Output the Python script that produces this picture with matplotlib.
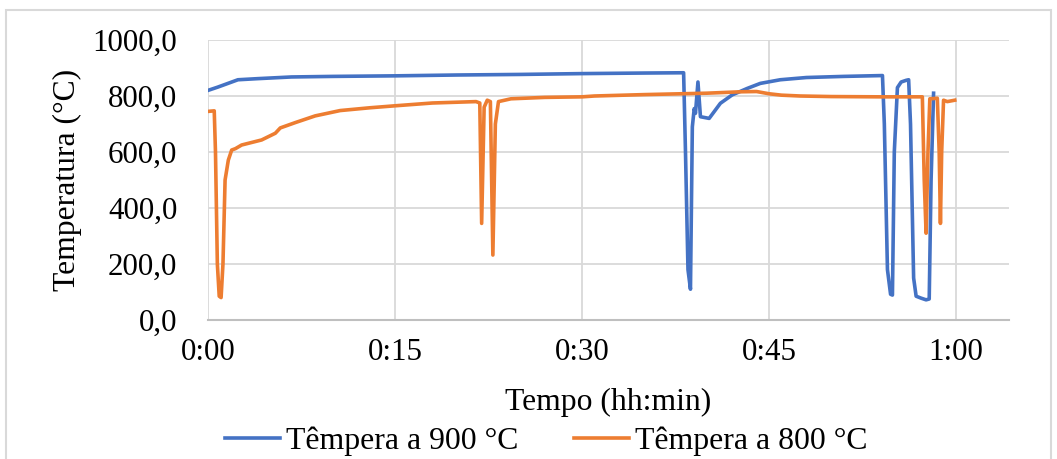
import matplotlib
matplotlib.use("Agg")
import matplotlib.pyplot as plt
from matplotlib.patches import Rectangle

plt.rcParams['font.family'] = ['Liberation Serif', 'DejaVu Serif']

# time in minutes, temperature in °C
t900 = [0, 0.8, 1.6, 2.4, 4, 6.7, 10, 15, 20, 25, 30, 35, 38.15,
        38.3, 38.5, 38.7, 38.85, 39.0, 39.1, 39.3, 39.5, 40.2, 41.1, 42.05,
        43.25, 44.3, 45.9, 48, 51, 54.1,
        54.25, 54.5, 54.75, 54.9, 55.05, 55.3, 55.6, 56.0, 56.2,
        56.35, 56.6, 56.8, 57.2, 57.6, 57.85, 58.0, 58.2]
temp900 = [820, 832, 845, 858, 862, 868, 870, 872, 875, 877, 880, 882, 883,
           600, 180, 110, 690, 755, 738, 850, 726, 720, 774, 804,
           827, 845, 858, 866, 870, 873,
           700, 180, 92, 89, 600, 830, 850, 856, 858,
           700, 150, 85, 78, 72, 75, 500, 810]

t800 = [0, 0.5, 0.6, 0.75, 0.9, 1.05, 1.2, 1.37, 1.63, 1.9, 2.2, 2.7,
        4.3, 5.4, 5.8, 7, 8.6, 10.6, 13, 15, 18, 21.5, 21.8,
        21.95, 22.15, 22.4, 22.65, 22.85, 23.05, 23.3, 24.3, 27, 30, 31,
        35, 38, 40, 42.7, 44, 45, 46, 47.5, 50, 54, 57.3,
        57.45, 57.6, 57.75, 57.9, 58.5, 58.65, 58.75, 58.85, 59.0, 59.3, 59.9]
temp800 = [745, 747, 600, 200, 85, 80, 200, 500, 571, 607, 612, 625,
           643, 667, 686, 705, 729, 748, 758, 765, 775, 780, 775,
           345, 760, 785, 780, 232, 700, 780, 790, 795, 797, 800,
           805, 808, 810, 815, 816, 808, 803, 800, 798, 797, 797,
           500, 310, 600, 790, 792, 600, 345, 600, 785, 780, 785]

xticks = [0, 15, 30, 45, 60]
xlabels = ["0:00", "0:15", "0:30", "0:45", "1:00"]
yticks = [0, 200, 400, 600, 800, 1000]
ylabels = ["0,0", "200,0", "400,0", "600,0", "800,0", "1000,0"]

fig = plt.figure(figsize=(10.57, 4.59), dpi=100)
ax = fig.add_axes([208/1057, 1-320/459, 801/1057, 280/459])

ax.plot(t900, temp900, color="#4472C4", lw=2.6, label="Têmpera a 900 °C")
ax.plot(t800, temp800, color="#ED7D31", lw=2.6, label="Têmpera a 800 °C")

ax.set_xlim(0, 64.25)
ax.set_ylim(0, 1000)
ax.set_xticks(xticks)
ax.set_xticklabels(xlabels)
ax.set_yticks(yticks)
ax.set_yticklabels(ylabels)
ax.tick_params(axis='both', length=0, labelsize=22.3)
ax.tick_params(axis='y', pad=22)
ax.tick_params(axis='x', pad=13)
ax.grid(True, color="#D9D9D9", lw=1.3)
ax.set_axisbelow(True)
for s in ['top', 'right', 'left']:
    ax.spines[s].set_visible(False)
ax.spines['bottom'].set_color("#BFBFBF")
ax.spines['bottom'].set_linewidth(1.5)

ax.set_xlabel("Tempo (hh:min)", fontsize=22.8)
ax.xaxis.set_label_coords(0.5, (320-388)/280)
ax.set_ylabel("Temperatura (°C)", fontsize=22.8)
ax.yaxis.set_label_coords((82-208)/801, 0.5)

fig.legend(loc="center", bbox_to_anchor=(546/1057, 1-441/459), ncol=2,
           frameon=False, fontsize=22.9, handlelength=1.73, handletextpad=0.18,
           columnspacing=1.75, borderpad=0, borderaxespad=0)

fig.patches.append(Rectangle((6/1057, -0.1), 1045/1057, 1.1 - 10/459,
                             transform=fig.transFigure, fill=False,
                             edgecolor="#D9D9D9", lw=1.5))

fig.savefig("out.png", dpi=100)
